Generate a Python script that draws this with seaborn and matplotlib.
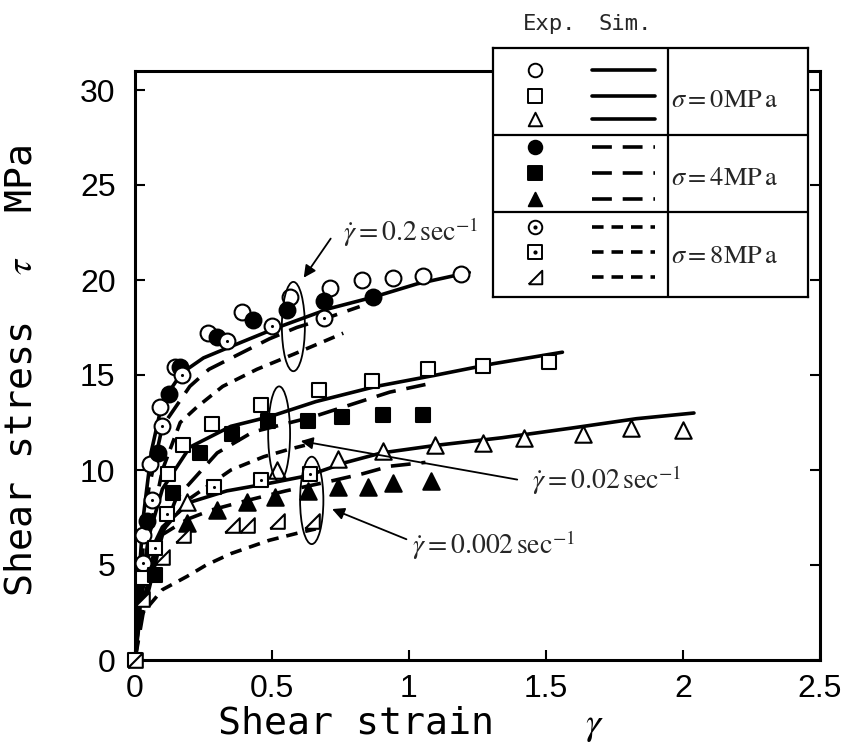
import numpy as np
import pandas as pd
import matplotlib
matplotlib.use('Agg')
import matplotlib.pyplot as plt
from matplotlib.patches import Ellipse
import seaborn as sns

sns.set_theme(style='ticks')
plt.rcParams['font.family'] = ['Liberation Sans', 'DejaVu Sans']
plt.rcParams['mathtext.fontset'] = 'stix'

# experiments, rate 0.2 1/s
c0_x = [0.03, 0.055, 0.09, 0.145, 0.265, 0.39, 0.565, 0.71, 0.83, 0.94, 1.05, 1.19]
c0_y = [6.6, 10.3, 13.3, 15.4, 17.2, 18.3, 19.1, 19.6, 20.0, 20.1, 20.2, 20.3]
c4_x = [0.044, 0.085, 0.125, 0.165, 0.30, 0.43, 0.555, 0.69, 0.87]
c4_y = [7.3, 10.9, 14.0, 15.4, 17.0, 17.9, 18.4, 18.9, 19.1]
c8_x = [0.03, 0.062, 0.098, 0.17, 0.335, 0.50, 0.69]
c8_y = [5.1, 8.4, 12.3, 15.0, 16.8, 17.6, 18.0]
# rate 0.02 1/s
s0_x = [0.0, 0.03, 0.12, 0.175, 0.28, 0.46, 0.67, 0.865, 1.07, 1.27, 1.51]
s0_y = [0.0, 4.3, 9.8, 11.3, 12.4, 13.4, 14.2, 14.7, 15.3, 15.5, 15.7]
s4_x = [0.073, 0.14, 0.237, 0.355, 0.485, 0.63, 0.755, 0.905, 1.05]
s4_y = [4.5, 8.8, 10.9, 11.9, 12.6, 12.6, 12.8, 12.9, 12.9]
s8_x = [0.073, 0.117, 0.29, 0.46, 0.64]
s8_y = [5.9, 7.7, 9.1, 9.5, 9.8]
# rate 0.002 1/s
t0_x = [0.19, 0.52, 0.74, 0.905, 1.095, 1.27, 1.42, 1.635, 1.81, 2.0]
t0_y = [8.3, 10.0, 10.6, 11.0, 11.3, 11.4, 11.7, 11.9, 12.2, 12.1]
t4_x = [0.19, 0.30, 0.41, 0.51, 0.63, 0.74, 0.85, 0.94, 1.08]
t4_y = [7.2, 7.9, 8.3, 8.6, 8.9, 9.1, 9.1, 9.3, 9.4]
t8_x = [0.0, 0.025, 0.1, 0.175, 0.355, 0.41, 0.52, 0.645]
t8_y = [0.0, 3.2, 5.4, 6.6, 7.1, 7.1, 7.3, 7.3]

# simulations
a0_x = [0, 0.01, 0.03, 0.06, 0.1, 0.17, 0.25, 0.35, 0.52, 0.71, 0.87, 1.03, 1.22]
a0_y = [0, 3.5, 7.5, 11.0, 13.6, 15.1, 15.9, 16.5, 17.5, 18.5, 19.1, 19.8, 20.4]
a4_x = [0, 0.02, 0.05, 0.1, 0.2, 0.27, 0.38, 0.49, 0.59, 0.7, 0.82]
a4_y = [0, 4.5, 9.0, 12.3, 14.4, 15.3, 16.1, 16.9, 17.5, 18.0, 18.6]
a8_x = [0, 0.02, 0.05, 0.1, 0.165, 0.225, 0.32, 0.445, 0.58, 0.76]
a8_y = [0, 3.0, 6.5, 10.0, 12.5, 13.3, 14.4, 15.3, 16.1, 17.2]
b0_x = [0, 0.02, 0.05, 0.1, 0.2, 0.35, 0.49, 0.66, 0.88, 1.1, 1.31, 1.56]
b0_y = [0, 3.5, 6.5, 9.0, 11.2, 12.3, 12.8, 13.6, 14.4, 15.0, 15.6, 16.2]
b4_x = [0, 0.03, 0.07, 0.15, 0.3, 0.43, 0.65, 0.93, 1.06]
b4_y = [0, 3.0, 5.5, 8.5, 10.9, 12.0, 12.8, 14.1, 14.5]
b8_x = [0, 0.02, 0.05, 0.1, 0.2, 0.35, 0.47, 0.565, 0.62]
b8_y = [0, 2.5, 4.8, 6.8, 8.5, 10.0, 10.7, 11.1, 11.3]
d0_x = [0, 0.02, 0.05, 0.1, 0.2, 0.335, 0.49, 0.63, 0.77, 0.9, 1.1, 1.34, 1.59, 1.83, 2.04]
d0_y = [0, 3.0, 5.5, 7.0, 8.3, 8.9, 9.3, 9.7, 10.4, 10.9, 11.3, 11.7, 12.2, 12.7, 13.0]
d4_x = [0, 0.03, 0.1, 0.19, 0.28, 0.41, 0.55, 0.71, 0.83, 0.93, 1.06]
d4_y = [0, 2.5, 6.6, 7.4, 7.9, 8.4, 8.9, 9.4, 9.8, 10.2, 10.4]
d8_x = [0, 0.01, 0.03, 0.1, 0.19, 0.26, 0.35, 0.49, 0.6, 0.66]
d8_y = [0, 2.0, 2.5, 3.7, 4.4, 5.0, 5.6, 6.3, 6.7, 6.9]

half_tri = [(-1, -1), (1, -1), (1, 1), (-1, -1)]

solid = '-'
long_dash = (0, (5.5, 3))
short_dash = (0, (3.2, 2.2))

fig = plt.figure(figsize=(8.5, 7.5), dpi=100)
ax = fig.add_axes([135/850, 1-660/750, 685/850, 589/750])

for xs, ys, ls in [(a0_x, a0_y, solid), (a4_x, a4_y, long_dash), (a8_x, a8_y, short_dash),
                   (b0_x, b0_y, solid), (b4_x, b4_y, long_dash), (b8_x, b8_y, short_dash),
                   (d0_x, d0_y, solid), (d4_x, d4_y, long_dash), (d8_x, d8_y, short_dash)]:
    sns.lineplot(x=xs, y=ys, ax=ax, color='black', lw=2.6, linestyle=ls,
                 sort=False, estimator=None, zorder=2)

def marks(xs, ys, m, fill, s, dot=False):
    sns.scatterplot(x=xs, y=ys, ax=ax, marker=m, s=s, color=fill, edgecolor='black',
                    linewidth=1.5, zorder=3, clip_on=False)
    if dot:
        sns.scatterplot(x=xs, y=ys, ax=ax, marker='o', s=5, color='black',
                        edgecolor='black', linewidth=0, zorder=4)

marks(c0_x, c0_y, 'o', 'white', 130)
marks(c4_x, c4_y, 'o', 'black', 130)
marks(c8_x, c8_y, 'o', 'white', 130, dot=True)
marks(s0_x, s0_y, 's', 'white', 115)
marks(s4_x, s4_y, 's', 'black', 115)
marks(s8_x, s8_y, 's', 'white', 115, dot=True)
marks(t0_x, t0_y, '^', 'white', 140)
marks(t4_x, t4_y, '^', 'black', 140)
marks(t8_x, t8_y, half_tri, 'white', 110)

for cx, cy, w, h in [(0.578, 17.55, 0.084, 4.7), (0.526, 11.9, 0.08, 5.0), (0.645, 8.4, 0.085, 4.6)]:
    ax.add_patch(Ellipse((cx, cy), w, h, fill=False, ec='black', lw=1.3, zorder=5))

arrow = dict(arrowstyle='-|>', color='black', lw=1.3, mutation_scale=18)
ax.annotate('', xy=(0.61, 20.0), xytext=(0.72, 22.3), arrowprops=arrow)
ax.annotate('', xy=(0.595, 11.55), xytext=(1.405, 9.47), arrowprops=arrow)
ax.annotate('', xy=(0.71, 8.0), xytext=(1.0, 6.3), arrowprops=arrow)
ax.text(0.76, 22.5, r'$\dot{\gamma} = 0.2\,\mathrm{sec}^{-1}$', fontsize=20, va='center')
ax.text(1.45, 9.47, r'$\dot{\gamma} = 0.02\,\mathrm{sec}^{-1}$', fontsize=20, va='center')
ax.text(1.01, 6.05, r'$\dot{\gamma} = 0.002\,\mathrm{sec}^{-1}$', fontsize=20, va='center')

ax.set_xlim(0, 2.5)
ax.set_ylim(0, 31)
ax.set_xticks([0, 0.5, 1, 1.5, 2, 2.5])
ax.set_xticklabels(['0', '0.5', '1', '1.5', '2', '2.5'])
ax.set_yticks([0, 5, 10, 15, 20, 25, 30])
ax.tick_params(direction='in', length=7, width=1.5, labelsize=23, right=True, colors='black')
ax.tick_params(axis='x', pad=10)
ax.tick_params(axis='y', pad=14)
for sp in ax.spines.values():
    sp.set_linewidth(2.2)
    sp.set_color('black')
ax.set_facecolor('white')
ax.set_xlabel(r'Shear strain    $\gamma$', family='DejaVu Sans Mono', fontsize=27.5, color='black')
ax.set_ylabel(r'Shear stress  $\tau$  MPa', family='DejaVu Sans Mono', fontsize=27.5, color='black')
ax.xaxis.label.set_ha('left')
ax.xaxis.set_label_coords(0.12, -0.075)
ax.yaxis.set_label_coords(-0.14, 0.49)

# legend table
lax = fig.add_axes([493/850, 1-297/750, 315/850, 249/750])
lax.set_xlim(493, 808)
lax.set_ylim(297, 48)
lax.set_xticks([])
lax.set_yticks([])
lax.set_facecolor('white')
for sp in lax.spines.values():
    sp.set_linewidth(1.6)
    sp.set_color('black')
lax.plot([668, 668], [48, 297], color='black', lw=1.6)
lax.plot([493, 808], [135, 135], color='black', lw=1.6)
lax.plot([493, 808], [212, 212], color='black', lw=1.6)

rows_y = [70, 96, 119, 147, 173, 199, 227, 252, 277]
leg_m = ['o', 's', '^', 'o', 's', '^', 'o', 's', half_tri]
leg_f = ['white', 'white', 'white', 'black', 'black', 'black', 'white', 'white', 'white']
leg_ls = [solid] * 3 + [long_dash] * 3 + [short_dash] * 3
for i, yy in enumerate(rows_y):
    lax.scatter([535], [yy], marker=leg_m[i], s=95, c=leg_f[i], edgecolors='black', linewidths=1.4)
    if i in (6, 7):
        lax.scatter([535], [yy], marker='o', s=4, c='black')
    lax.plot([592, 655], [yy, yy], color='black', lw=2.6, linestyle=leg_ls[i])
for yy, num in [(100, '0'), (178, '4'), (256, '8')]:
    lax.text(671, yy, r'$\sigma = \mathrm{' + num + r'MP\,a}$', fontsize=19, va='center', ha='left')

fig.text(550/850, 1-24/750, 'Exp.', family='DejaVu Sans Mono', fontsize=16, ha='center', va='center')
fig.text(625/850, 1-24/750, 'Sim.', family='DejaVu Sans Mono', fontsize=16, ha='center', va='center')

fig.savefig('out.png', dpi=100, facecolor='white')
